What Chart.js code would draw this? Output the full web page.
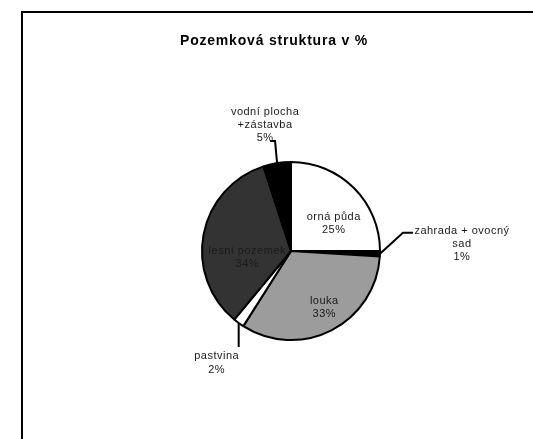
<!DOCTYPE html>
<html>
<head>
<meta charset="utf-8">
<title>Pozemková struktura v %</title>
<script src="https://cdn.jsdelivr.net/npm/chart.js@4/dist/chart.umd.min.js"></script>
<style>
  html, body { margin: 0; padding: 0; background: #fff; }
  canvas { display: block; }
</style>
</head>
<body>
<canvas id="landChart" width="533" height="439"></canvas>
<script>
'use strict';
const categories = ['orná půda', 'zahrada + ovocný sad', 'louka', 'pastvina', 'lesní pozemek', 'vodní plocha +zástavba'];
const shares = [25, 1, 33, 2, 34, 5];
// how each category name is broken into lines on the chart
const labelLines = [
  ['orná půda'],
  ['zahrada + ovocný', 'sad'],
  ['louka'],
  ['pastvina'],
  ['lesní pozemek'],
  ['vodní plocha', '+zástavba'],
];
const sliceColors = ['#ffffff', '#000000', '#9c9c9c', '#ffffff', '#333333', '#000000'];

// inside labels sit along the mid angle, callouts get a leader line
const labelPlacement = [
  { inside: true, dist: 0.6, dx: 5, dy: 10 },
  { inside: false, elbow: [23, -21], tail: 10, text: [49, 11.5], gap: 13 },
  { inside: true, dist: 0.7, dx: 5, dy: 1 },
  { inside: false, elbow: [0, 24], tail: 0, text: [-22, 15.5], gap: 14 },
  { inside: true, dist: 0.5, dx: 0, dy: 15 },
  { inside: false, elbow: [-2, -22], tail: -5, text: [-5, -16.5], gap: 13 },
];

const labelFont = '11px "Liberation Sans", Arial, sans-serif';

const framePlugin = {
  id: 'frame',
  beforeDraw(chart) {
    const ctx = chart.ctx;
    ctx.save();
    ctx.fillStyle = '#fff';
    ctx.fillRect(0, 0, chart.width, chart.height);
    ctx.strokeStyle = '#000';
    ctx.lineWidth = 2;
    ctx.beginPath();
    ctx.moveTo(22, chart.height);
    ctx.lineTo(22, 12);
    ctx.lineTo(chart.width, 12);
    ctx.stroke();
    ctx.restore();
  },
  afterDraw(chart) {
    const ctx = chart.ctx;
    ctx.save();
    ctx.font = 'bold 14px "Liberation Sans", Arial, sans-serif';
    ctx.letterSpacing = '0.8px';
    ctx.fillStyle = '#000';
    ctx.textAlign = 'center';
    ctx.textBaseline = 'alphabetic';
    ctx.fillText('Pozemková struktura v %', 274, 45);
    ctx.restore();
  },
};

const calloutPlugin = {
  id: 'callouts',
  afterDatasetsDraw(chart) {
    const ctx = chart.ctx;
    const arcs = chart.getDatasetMeta(0).data;
    ctx.save();
    ctx.font = labelFont;
    ctx.letterSpacing = '0.5px';
    ctx.textAlign = 'center';
    ctx.textBaseline = 'middle';
    ctx.strokeStyle = '#000';
    ctx.lineWidth = 2;
    arcs.forEach((arc, i) => {
      const p = arc.getProps(['x', 'y', 'startAngle', 'endAngle', 'outerRadius'], true);
      const mid = (p.startAngle + p.endAngle) / 2;
      const place = labelPlacement[i];
      const lines = labelLines[i].concat(shares[i] + '%');
      let cx, cy, gap;
      if (place.inside) {
        cx = p.x + Math.cos(mid) * p.outerRadius * place.dist + place.dx;
        cy = p.y + Math.sin(mid) * p.outerRadius * place.dist + place.dy;
        gap = 12.5;
      } else {
        const ex = p.x + Math.cos(mid) * p.outerRadius;
        const ey = p.y + Math.sin(mid) * p.outerRadius;
        const bx = ex + place.elbow[0];
        const by = ey + place.elbow[1];
        const tx = bx + place.tail;
        ctx.beginPath();
        ctx.moveTo(ex, ey);
        ctx.lineTo(bx, by);
        ctx.lineTo(tx, by);
        ctx.stroke();
        cx = tx + place.text[0];
        cy = by + place.text[1];
        gap = place.gap;
      }
      ctx.fillStyle = '#1a1a1a';
      lines.forEach((t, k) => {
        ctx.fillText(t, cx, cy + (k - (lines.length - 1) / 2) * gap);
      });
    });
    ctx.restore();
  },
};

const ctx = document.getElementById('landChart');
const landChart = new Chart(ctx, {
  type: 'pie',
  data: {
    labels: categories,
    datasets: [
      {
        data: shares,
        backgroundColor: sliceColors,
        borderColor: '#000',
        borderWidth: 2,
      },
    ],
  },
  options: {
    responsive: false,
    animation: false,
    radius: 89,
    layout: {
      padding: { left: 99, right: 50, top: 113, bottom: 50 },
    },
    plugins: {
      legend: { display: false },
      tooltip: { enabled: false },
      title: { display: false },
    },
  },
  plugins: [framePlugin, calloutPlugin],
});
</script>
</body>
</html>
